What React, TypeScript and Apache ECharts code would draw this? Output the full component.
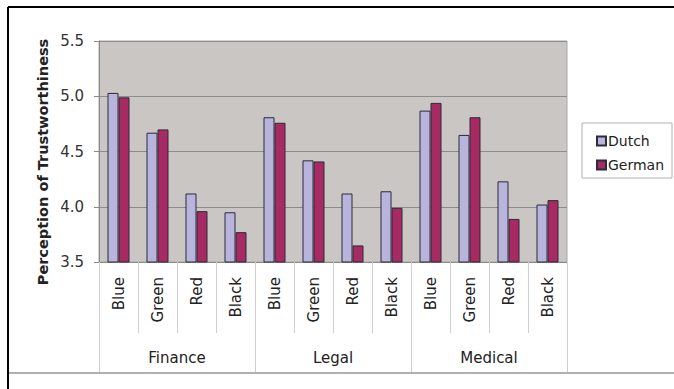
import React, { useEffect, useRef } from "react";
import * as echarts from "echarts";

const groups = ["Finance", "Legal", "Medical"];
const colorsCat = ["Blue", "Green", "Red", "Black"];
const categories = groups.flatMap(() => colorsCat);
const dutch = [5.03, 4.67, 4.12, 3.95, 4.81, 4.42, 4.12, 4.14, 4.87, 4.65, 4.23, 4.02];
const german = [4.99, 4.70, 3.96, 3.77, 4.76, 4.41, 3.65, 3.99, 4.94, 4.81, 3.89, 4.06];
const yTicks = { min: 3.5, max: 5.5, interval: 0.5 };

const FONT = "'DejaVu Sans', Verdana, sans-serif";

export default function App() {
  const ref = useRef<HTMLDivElement>(null);
  useEffect(() => {
    if (!ref.current) return;
    const chart = echarts.init(ref.current, undefined, { renderer: "svg" });
    chart.setOption({
      animation: false,
      backgroundColor: "#ffffff",
      grid: {
        left: 99,
        right: 107,
        top: 41,
        bottom: 127,
        show: true,
        backgroundColor: "#cac6c3",
        borderColor: "#a8a8a8",
        borderWidth: 1,
      },
      legend: {
        orient: "vertical",
        left: 591,
        top: 129,
        itemWidth: 9,
        itemHeight: 9,
        itemGap: 10,
        icon: "rect",
        textStyle: { fontFamily: FONT, fontSize: 14, color: "#222", padding: [0, 0, 0, -3] },
        data: ["Dutch", "German"],
      },
      xAxis: [
        {
          type: "category",
          data: categories,
          position: "bottom",
          axisLine: { show: true, lineStyle: { color: "#8a8a8a" } },
          axisTick: { show: true, length: 71, interval: 0, lineStyle: { color: "#cfcfcf" } },
          axisLabel: {
            interval: 0,
            rotate: 90,
            margin: 15,
            fontFamily: FONT,
            fontSize: 15,
            color: "#222",
          },
        },
        {
          type: "category",
          data: groups,
          position: "bottom",
          axisLine: { show: false },
          axisTick: { show: true, length: 110, interval: 0, lineStyle: { color: "#cfcfcf" } },
          axisLabel: {
            interval: 0,
            margin: 88,
            fontFamily: FONT,
            fontSize: 15,
            color: "#222",
          },
        },
      ],
      yAxis: {
        type: "value",
        min: yTicks.min,
        max: yTicks.max,
        interval: yTicks.interval,
        axisLine: { show: true, lineStyle: { color: "#8a8a8a" } },
        axisTick: { show: true, length: 5, lineStyle: { color: "#8a8a8a" } },
        axisLabel: {
          formatter: (v: number) => v.toFixed(1),
          fontFamily: FONT,
          fontSize: 15,
          color: "#333",
          margin: 15,
        },
        splitLine: { show: true, lineStyle: { color: "#8c8c8c" } },
      },
      series: [
        {
          name: "Dutch",
          type: "bar",
          data: dutch,
          barWidth: 11,
          barGap: "0%",
          itemStyle: { color: "#b8b4dc", borderColor: "#2b2b3a", borderWidth: 1 },
        },
        {
          name: "German",
          type: "bar",
          data: german,
          barWidth: 11,
          itemStyle: { color: "#a82a62", borderColor: "#2b2b3a", borderWidth: 1 },
        },
      ],
      graphic: [
        { type: "line", shape: { x1: 8, y1: 7, x2: 674, y2: 7 }, style: { stroke: "#000", lineWidth: 2 } },
        { type: "line", shape: { x1: 8, y1: 7, x2: 8, y2: 389 }, style: { stroke: "#000", lineWidth: 2 } },
        { type: "line", shape: { x1: 9, y1: 373, x2: 674, y2: 373 }, style: { stroke: "#b0b0b0", lineWidth: 2 } },
        {
          type: "rect",
          shape: { x: 582, y: 123, width: 90, height: 55 },
          style: { fill: "#fff", stroke: "#b0b0b0", lineWidth: 1 },
          z: -1,
        },
        {
          type: "text",
          x: 43,
          y: 162,
          rotation: Math.PI / 2,
          style: {
            text: "Perception of Trustworthiness",
            fontFamily: FONT,
            fontSize: 14.5,
            fontWeight: "bold",
            fill: "#222",
            align: "center",
            verticalAlign: "middle",
          },
        },
      ],
    });
    return () => chart.dispose();
  }, []);
  return <div ref={ref} style={{ width: 674, height: 389, position: "absolute", left: 0, top: 0 }} />;
}
